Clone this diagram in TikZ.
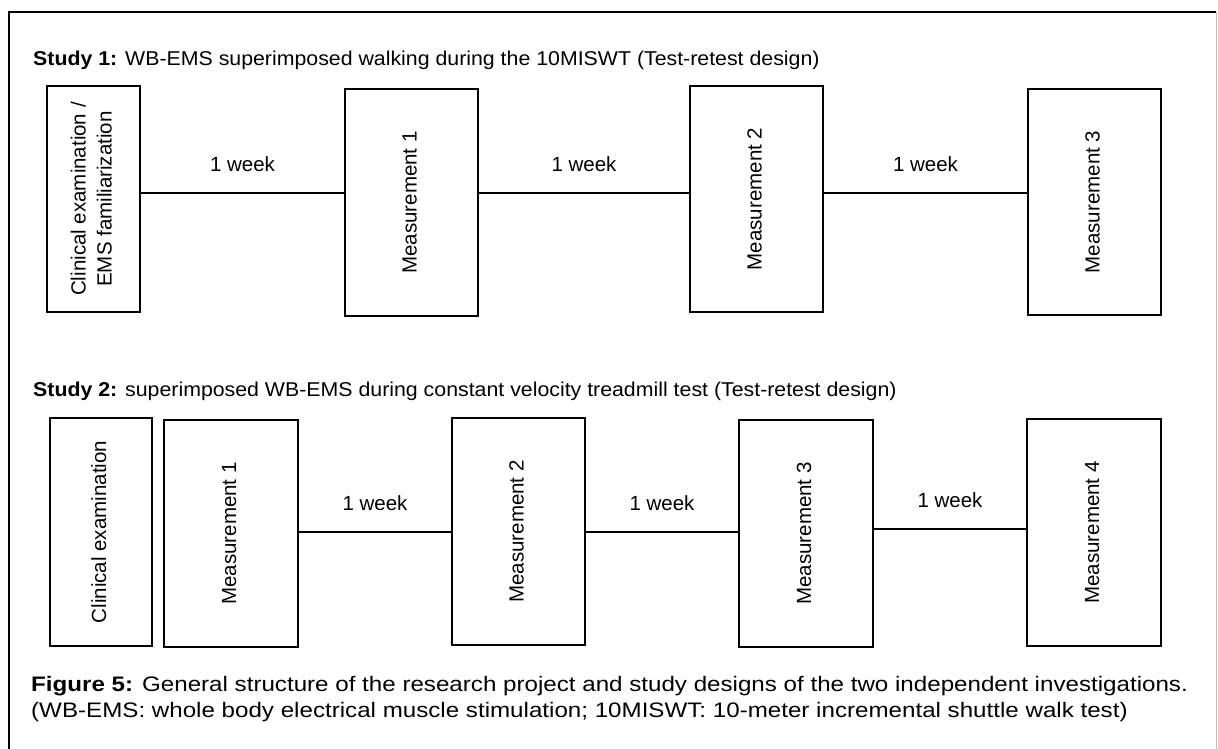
\documentclass[tikz,border=0pt]{standalone}
\usepackage{fontspec}
\setmainfont{Liberation Sans}
\newfontfamily\titfont[FakeStretch=1.066]{Liberation Sans}
\newfontfamily\capfont[FakeStretch=1.15]{Liberation Sans}
\usepackage{graphicx}
\usepackage{tikz}
\usetikzlibrary{positioning}

\tikzset{
	box/.style={draw, line width=1.3pt, inner sep=0pt, minimum width=133pt, minimum height=227pt, font=\fontsize{20.5}{26}\selectfont},
	wk/.style={midway, above=17pt, font=\fontsize{20.5}{26}\selectfont},
	title/.style={anchor=base west, inner sep=0pt, font=\titfont\fontsize{20}{24}\selectfont},
	captext/.style={anchor=base west, inner sep=0pt, font=\capfont\fontsize{21}{27}\selectfont},
	link/.style={line width=1.3pt}
}
\newcommand{\vtext}[1]{\rotatebox{90}{\begin{tabular}{@{}c@{}}#1\end{tabular}}}

\begin{document}
\begin{tikzpicture}[x=1pt, y=-1pt]

	\useasboundingbox (0,0) rectangle (1218,749);
	\draw[line width=1.6pt] (9,749) -- (9,12) -- (1216,12);
	\draw[line width=0.8pt, black!25] (1216,12) -- (1216,749);

	% study 1
	\node[title] (tia) at (33,66) {\textbf{Study 1:} WB-EMS superimposed walking during the 10MISWT (Test-retest design)};
	\node[box, minimum width=93pt, minimum height=226pt] (cla) at (93.5,199) {\vtext{Clinical examination /\\EMS familiarization}};
	\node[box] (ma1) at (411.5,202.5) {\vtext{Measurement 1}};
	\node[box, minimum height=226pt] (ma2) at (756.5,199) {\vtext{Measurement 2}};
	\node[box, minimum height=226pt] (ma3) at (1094.5,202) {\vtext{Measurement 3}};
	\coordinate (la) at (0,193);

	\draw[link]
	(cla.east |- la) -- node[wk]{1 week} (ma1.west |- la)
	(ma1.east |- la) -- node[wk]{1 week} (ma2.west |- la)
	(ma2.east |- la) -- node[wk]{1 week} (ma3.west |- la)
	;

	% study 2
	\node[title] (tib) at (33,396) {\textbf{Study 2:} superimposed WB-EMS during constant velocity treadmill test (Test-retest design)};
	\node[box, minimum width=102pt, minimum height=228pt] (clb) at (101,532) {\vtext{Clinical examination}};
	\node[box, minimum width=134pt] (mb1) at (231,533.5) {\vtext{Measurement 1}};
	\node[box] (mb2) at (518.5,531.5) {\vtext{Measurement 2}};
	\node[box, minimum width=134pt] (mb3) at (806,533.5) {\vtext{Measurement 3}};
	\node[box, minimum width=134pt] (mb4) at (1094,532.5) {\vtext{Measurement 4}};
	\coordinate (lb) at (0,532);
	\coordinate (lc) at (0,529);

	\draw[link]
	(mb1.east |- lb) -- node[wk]{1 week} (mb2.west |- lb)
	(mb2.east |- lb) -- node[wk]{1 week} (mb3.west |- lb)
	(mb3.east |- lc) -- node[wk]{1 week} (mb4.west |- lc)
	;

	\node[captext] (capa) at (31,691) {\textbf{Figure 5:} General structure of the research project and study designs of the two independent investigations.};
	\node[captext] (capb) at (31,717) {(WB-EMS: whole body electrical muscle stimulation; 10MISWT: 10-meter incremental shuttle walk test)};

\end{tikzpicture}
\end{document}
